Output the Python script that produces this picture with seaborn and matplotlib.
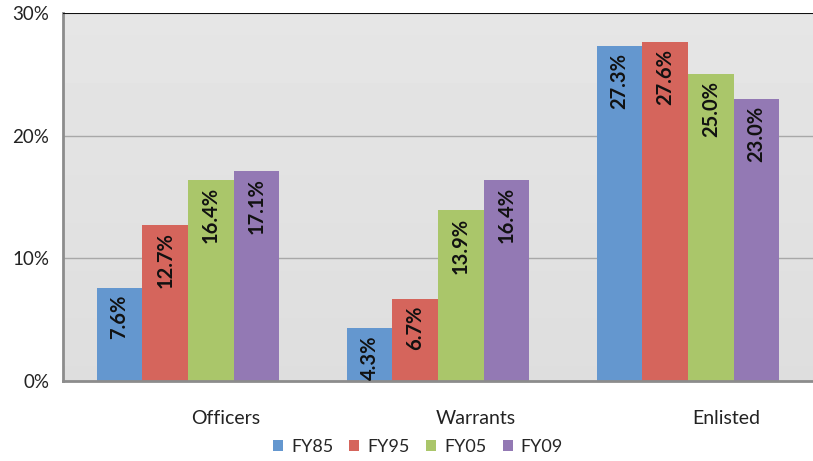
import numpy as np
import pandas as pd
import matplotlib
matplotlib.use("Agg")
import matplotlib.pyplot as plt
import matplotlib.transforms as mtransforms
import seaborn as sns

# data
groups = ["Officers", "Warrants", "Enlisted"]
years = ["FY85", "FY95", "FY05", "FY09"]
fy85 = [7.6, 4.3, 27.3]
fy95 = [12.7, 6.7, 27.6]
fy05 = [16.4, 13.9, 25.0]
fy09 = [17.1, 16.4, 23.0]
y_ticks = [0, 10, 20, 30]

colors = ["#6497CF", "#D5655C", "#AAC66A", "#9379B4"]

rows = []
for yr, vals in zip(years, [fy85, fy95, fy05, fy09]):
    for g, v in zip(groups, vals):
        rows.append({"group": g, "year": yr, "pct": v})
df = pd.DataFrame(rows)

sns.set_style("white")
plt.rcParams["font.family"] = ["Lato", "DejaVu Sans"]

fig = plt.figure(figsize=(8.13, 4.61), dpi=100)
ax = fig.add_axes([63 / 813, 1 - 381 / 461, 1 - 63 / 813, (381 - 13) / 461])

# soft gray gradient behind the bars
grad = np.linspace(0.90, 0.87, 100).reshape(-1, 1)
ax.imshow(grad, extent=[0, 1, 0, 1], transform=ax.transAxes, cmap="gray",
          vmin=0, vmax=1, aspect="auto", zorder=0)

sns.barplot(data=df, x="group", y="pct", hue="year", order=groups,
            hue_order=years, palette=colors, width=0.73, saturation=1,
            edgecolor="none", ax=ax, zorder=2)

# value labels inside the top of each bar
for cont in ax.containers:
    for bar in cont:
        h = bar.get_height()
        ax.annotate(f"{h:.1f}%", (bar.get_x() + bar.get_width() / 2, h),
                    xytext=(0, -5), textcoords="offset points", rotation=90,
                    ha="center", va="top", fontsize=14.5, fontweight="bold",
                    color="#111111", zorder=3)

ax.set_ylim(0, 30)
ax.set_xlim(-0.5, 2.5)
ax.set_yticks(y_ticks)
ax.set_yticklabels([f"{t}%" for t in y_ticks], fontsize=13.5, color="#222222")
for t in y_ticks[1:3]:
    ax.axhline(t, color="#a8a8a8", lw=1, zorder=1)
ax.axhline(30, color="#111111", lw=1.5, zorder=4)

ax.set_xticks([0, 1, 2])
ax.set_xticklabels(groups, fontsize=14, color="#222222")
ax.set_xticks([-0.5, 0.5, 1.5, 2.5], minor=True)
ax.tick_params(axis="x", which="major", length=0, pad=21)
ax.tick_params(axis="x", which="minor", length=5, color="#b0b0b0", width=1)
ax.tick_params(axis="y", length=6, color="#a0a0a0", width=1, pad=4)
shift = mtransforms.ScaledTranslation(38 / 100, 0, fig.dpi_scale_trans)
for lab in ax.get_xticklabels():
    lab.set_transform(lab.get_transform() + shift)

ax.set_xlabel("")
ax.set_ylabel("")
for side in ["top", "right"]:
    ax.spines[side].set_visible(False)
for side in ["left", "bottom"]:
    ax.spines[side].set_color("#8c8c8c")
    ax.spines[side].set_linewidth(2)

handles, labels = ax.get_legend_handles_labels()
ax.get_legend().remove()
fig.legend(handles, labels, loc="center", bbox_to_anchor=(0.514, 0.03), ncol=4,
           frameon=False, fontsize=13, handlelength=0.55, handleheight=0.55,
           handletextpad=0.45, columnspacing=0.9)

fig.savefig("out.png", dpi=100, facecolor="white")
